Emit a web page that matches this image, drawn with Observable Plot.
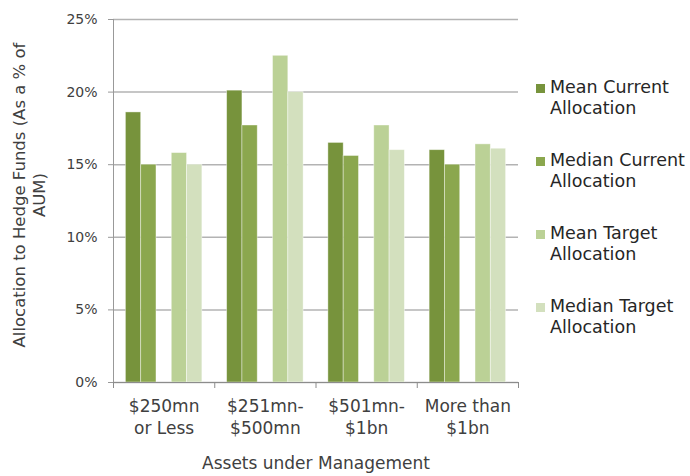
<!DOCTYPE html>
<html>
<head>
<meta charset="utf-8">
<script src="https://cdn.jsdelivr.net/npm/d3@7"></script>
<script src="https://cdn.jsdelivr.net/npm/@observablehq/plot@0.6"></script>
<style>
  html, body { margin: 0; padding: 0; background: #fff; }
  #chart { position: relative; width: 690px; height: 476px; font-family: "DejaVu Sans", sans-serif; }
  #legend { position: absolute; left: 536px; top: 0; }
  .item { position: absolute; left: 0; width: 160px; }
  .swatch { position: absolute; left: 0; top: 7px; width: 9px; height: 9px; }
  .label { position: absolute; left: 14px; top: 0; font-size: 17.5px; line-height: 21px; color: #262626; white-space: pre; }
</style>
</head>
<body>
<div id="chart"><div id="legend"></div></div>
<script>
// Asset-size buckets (x axis groups)
const groups = ["$250mn\nor Less", "$251mn-\n$500mn", "$501mn-\n$1bn", "More than\n$1bn"];
// Series names and colours
const series = ["Mean Current\nAllocation", "Median Current\nAllocation", "Mean Target\nAllocation", "Median Target\nAllocation"];
const colors = ["#77933C", "#8BA74E", "#BBD196", "#D3E0BE"];
// Allocation to hedge funds, % of AUM
const meanCurrent = [18.6, 20.1, 16.5, 16.0];
const medianCurrent = [15.0, 17.7, 15.6, 15.0];
const meanTarget = [15.8, 22.5, 17.7, 16.4];
const medianTarget = [15.0, 20.0, 16.0, 16.1];
// Axis ticks and titles
const yTicks = [0, 5, 10, 15, 20, 25];
const yTitle = "Allocation to Hedge Funds (As a % of\nAUM)";
const xTitle = "Assets under Management";

// Each group holds five bar slots; the middle one is left empty.
const slots = [0, 1, 3, 4];
const outer = 0.81;
const step = 1 / (5 + 2 * outer);
const values = [meanCurrent, medianCurrent, meanTarget, medianTarget];
const rows = [];
groups.forEach((g, gi) => {
  values.forEach((vals, si) => {
    const x1 = gi + (outer + slots[si]) * step;
    rows.push({group: g, series: series[si], value: vals[gi], x1, x2: x1 + step});
  });
});

const chart = Plot.plot({
  width: 690,
  height: 476,
  marginLeft: 113,
  marginRight: 172,
  marginTop: 19,
  marginBottom: 94,
  style: {fontFamily: "DejaVu Sans, sans-serif", color: "#404040", background: "#fff", overflow: "visible"},
  x: {domain: [0, groups.length], axis: null},
  y: {domain: [0, 25], axis: null},
  color: {domain: series, range: colors},
  marks: [
    Plot.gridY({ticks: yTicks, stroke: "#b3b3b3", strokeOpacity: 1, strokeWidth: 1.5}),
    Plot.rectY(rows, {x1: "x1", x2: "x2", y: "value", fill: "series", stroke: "#fff", strokeOpacity: 0.5, strokeWidth: 0.8}),
    Plot.ruleX([0], {stroke: "#999"}),
    Plot.ruleY([0], {stroke: "#8c8c8c", strokeWidth: 1.2}),
    Plot.axisY({ticks: yTicks, tickFormat: d => d + "%", tickSize: 5, tickPadding: 11, fontSize: 14, stroke: "#999", label: null}),
    Plot.axisX({ticks: d3.range(groups.length + 1), tickSize: 6, tickFormat: () => "", stroke: "#8c8c8c", label: null}),
    Plot.axisX({ticks: groups.map((g, i) => i + 0.5), tickSize: 0, tickPadding: 14, tickFormat: d => groups[Math.floor(d)], fontSize: 17, lineHeight: 1.28, label: null}),
    Plot.text([yTitle], {frameAnchor: "left", textAnchor: "middle", lineAnchor: "middle", dx: -85, dy: -6, rotate: -90, text: d => d, fontSize: 16.5, lineHeight: 1.2, fill: "#404040"}),
    Plot.text([xTitle], {frameAnchor: "bottom", dy: 86, text: d => d, fontSize: 17, fill: "#404040"})
  ]
});
document.getElementById("chart").prepend(chart);

// Legend to the right of the plot
const legend = document.getElementById("legend");
series.forEach((s, i) => {
  const item = document.createElement("div");
  item.className = "item";
  item.style.top = (77 + i * 73) + "px";
  const sw = document.createElement("div");
  sw.className = "swatch";
  sw.style.background = colors[i];
  const lb = document.createElement("div");
  lb.className = "label";
  lb.textContent = s;
  item.append(sw, lb);
  legend.append(item);
});
</script>
</body>
</html>
